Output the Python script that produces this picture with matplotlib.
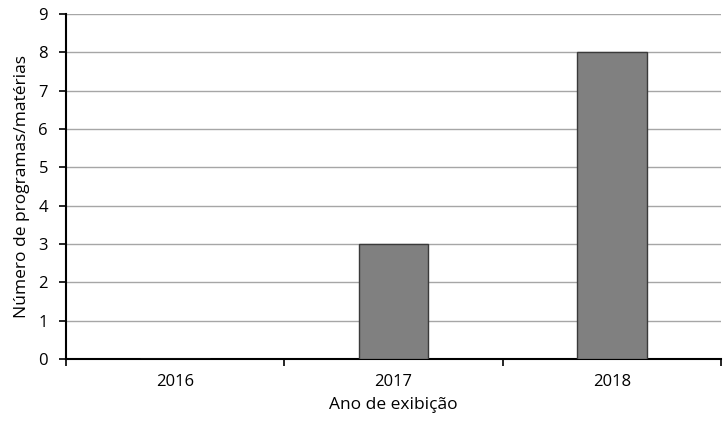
import matplotlib
matplotlib.use("Agg")
import matplotlib.pyplot as plt
from matplotlib.ticker import FixedLocator, MultipleLocator

anos = ["2016", "2017", "2018"]
quantidades = [0, 3, 8]

plt.rcParams["font.family"] = ["Open Sans", "DejaVu Sans"]

fig = plt.figure(figsize=(7.23, 4.24), dpi=100)
ax = fig.add_axes([66 / 723, 65 / 424, 655 / 723, 345 / 424])

x = list(range(len(anos)))
ax.bar(x, quantidades, width=0.32, color="#808080", edgecolor="#3a3a3a",
       linewidth=1.0, zorder=3)

ax.set_xlim(-0.5, len(anos) - 0.5)
ax.set_ylim(0, 9)
ax.yaxis.set_major_locator(MultipleLocator(1))
ax.grid(axis="y", color="#a6a6a6", linewidth=1.0, zorder=0)

# category labels centred, tick marks on the category boundaries
ax.set_xticks(x)
ax.set_xticklabels(anos)
ax.xaxis.set_minor_locator(FixedLocator([i + 0.5 for i in range(-1, len(anos))]))
ax.tick_params(axis="x", which="major", length=0, pad=11, labelsize=12)
ax.tick_params(axis="x", which="minor", length=5, width=1.2, direction="out",
               color="black")
ax.tick_params(axis="y", length=5, width=1.2, direction="out", pad=8,
               labelsize=12, color="black")

for side in ("top", "right"):
    ax.spines[side].set_visible(False)
for side in ("left", "bottom"):
    ax.spines[side].set_linewidth(1.5)
    ax.spines[side].set_color("black")

ax.set_xlabel("Ano de exibição", fontsize=12.5, labelpad=5)
ax.set_ylabel("Número de programas/matérias", fontsize=12.5, labelpad=6)

fig.savefig("out.png", dpi=100)
